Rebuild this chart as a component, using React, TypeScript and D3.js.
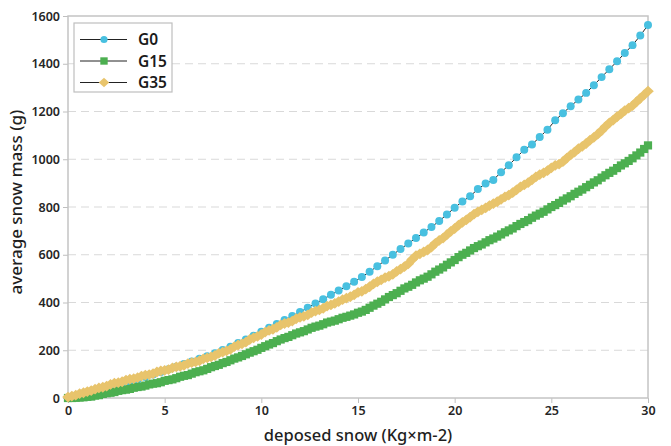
import React, { useEffect, useRef } from 'react';
import * as d3 from 'd3';

// deposed snow (Kg x m-2), G0 samples
const snowX = [
  0, 0.4, 0.8, 1.2, 1.6, 2, 2.4, 2.8, 3.2, 3.6, 4, 4.4, 4.8, 5.2, 5.6, 6, 6.4, 6.8, 7.2, 7.6,
  8, 8.4, 8.8, 9.2, 9.6, 10, 10.4, 10.8, 11.2, 11.6, 12, 12.4, 12.8, 13.2, 13.6, 14, 14.4, 14.8,
  15.2, 15.6, 16, 16.4, 16.8, 17.2, 17.6, 18, 18.4, 18.8, 19.2, 19.6, 20, 20.4, 20.8, 21.2, 21.6,
  22, 22.4, 22.8, 23.2, 23.6, 24, 24.4, 24.8, 25.2, 25.6, 26, 26.4, 26.8, 27.2, 27.6, 28, 28.4,
  28.8, 29.2, 29.6, 30,
];

const g0 = [
  0, 8, 16, 24, 33, 42, 51, 60, 69, 78, 88, 98, 109, 120, 131, 142, 153, 164, 175, 188,
  201, 215, 230, 245, 261, 278, 294, 310, 327, 343, 360, 378, 396, 414, 432, 450, 468, 487,
  507, 529, 552, 576, 600, 624, 647, 670, 693, 716, 741, 769, 797, 823, 845, 875, 898,
  913, 946, 975, 1008, 1040, 1062, 1093, 1124, 1163, 1193, 1222, 1250, 1278, 1310, 1344, 1377, 1410,
  1445, 1478, 1518, 1562,
];

// G15 / G35 samples (denser)
const snowXFine = [
  0, 0.2, 0.4, 0.6, 0.8, 1, 1.2, 1.4, 1.6, 1.8, 2, 2.2, 2.4, 2.6, 2.8, 3, 3.2, 3.4, 3.6, 3.8,
  4, 4.2, 4.4, 4.6, 4.8, 5, 5.2, 5.4, 5.6, 5.8, 6, 6.2, 6.4, 6.6, 6.8, 7, 7.2, 7.4, 7.6, 7.8,
  8, 8.2, 8.4, 8.6, 8.8, 9, 9.2, 9.4, 9.6, 9.8, 10, 10.2, 10.4, 10.6, 10.8, 11, 11.2, 11.4, 11.6, 11.8,
  12, 12.2, 12.4, 12.6, 12.8, 13, 13.2, 13.4, 13.6, 13.8, 14, 14.2, 14.4, 14.6, 14.8, 15, 15.2, 15.4, 15.6, 15.8,
  16, 16.2, 16.4, 16.6, 16.8, 17, 17.2, 17.4, 17.6, 17.8, 18, 18.2, 18.4, 18.6, 18.8, 19, 19.2, 19.4, 19.6, 19.8,
  20, 20.2, 20.4, 20.6, 20.8, 21, 21.2, 21.4, 21.6, 21.8, 22, 22.2, 22.4, 22.6, 22.8, 23, 23.2, 23.4, 23.6, 23.8,
  24, 24.2, 24.4, 24.6, 24.8, 25, 25.2, 25.4, 25.6, 25.8, 26, 26.2, 26.4, 26.6, 26.8, 27, 27.2, 27.4, 27.6, 27.8,
  28, 28.2, 28.4, 28.6, 28.8, 29, 29.2, 29.4, 29.6, 29.8, 30,
];

const g15 = [
  0, 0, 1, 2, 3, 5, 6, 10, 12, 17, 20, 22, 25, 30, 33, 35, 38, 43, 46, 48,
  52, 57, 60, 62, 66, 72, 75, 78, 83, 89, 93, 96, 102, 108, 112, 116, 122, 129, 134, 139,
  146, 151, 158, 165, 170, 176, 183, 190, 196, 202, 210, 217, 224, 230, 238, 245, 251, 256, 263, 270,
  275, 280, 287, 294, 299, 303, 309, 316, 320, 324, 330, 336, 340, 345, 350, 357, 362, 369, 378, 387,
  395, 403, 413, 423, 431, 439, 449, 459, 466, 474, 484, 493, 500, 508, 518, 529, 538, 547, 558, 568,
  578, 590, 600, 608, 618, 628, 636, 643, 652, 661, 668, 676, 685, 694, 702, 710, 720, 729, 737, 745,
  755, 764, 772, 780, 790, 800, 808, 817, 827, 836, 845, 855, 864, 873, 883, 893, 903, 912, 923, 933,
  943, 952, 963, 974, 983, 993, 1004, 1016, 1028, 1043, 1058,
];

const g35 = [
  4, 8, 12, 18, 22, 27, 31, 37, 42, 45, 50, 57, 62, 64, 68, 75, 79, 81, 85, 92,
  96, 98, 102, 109, 114, 116, 119, 126, 130, 133, 137, 144, 148, 151, 156, 164, 168, 172, 178, 187,
  192, 197, 204, 215, 222, 227, 234, 245, 252, 258, 266, 276, 283, 288, 296, 306, 312, 316, 322, 332,
  338, 342, 348, 358, 364, 369, 376, 385, 390, 396, 404, 412, 418, 424, 432, 442, 447, 456, 466, 478,
  487, 495, 504, 510, 518, 530, 540, 550, 562, 580, 596, 604, 612, 620, 632, 648, 660, 670, 684, 698,
  710, 724, 736, 746, 758, 770, 780, 788, 796, 806, 814, 822, 832, 842, 850, 860, 872, 884, 893, 902,
  914, 926, 936, 943, 952, 964, 974, 980, 990, 1005, 1018, 1030, 1044, 1054, 1066, 1080, 1092, 1105, 1120, 1137,
  1152, 1164, 1178, 1190, 1204, 1214, 1225, 1240, 1255, 1270, 1285,
];

const seriesNames = ['G0', 'G15', 'G35'];
const seriesColors = ['#48c0e0', '#4caf50', '#e8c46c'];
const seriesShapes = ['circle', 'square', 'diamond'];
const yTicks = [0, 200, 400, 600, 800, 1000, 1200, 1400, 1600];
const xTicks = [0, 5, 10, 15, 20, 25, 30];

const W = 671;
const H = 446;
const margin = { top: 16, right: 23, bottom: 48, left: 68 };
const font = '"Noto Sans", "Open Sans", sans-serif';

const markerPath = (shape: string) => {
  if (shape === 'circle') return d3.symbol(d3.symbolCircle, 50)()!;
  if (shape === 'square') return 'M-4.1,-4.1H4.1V4.1H-4.1Z';
  return 'M0,-5.4L5.8,0L0,5.4L-5.8,0Z';
};

const App: React.FC = () => {
  const svgRef = useRef<SVGSVGElement>(null);

  useEffect(() => {
    if (!svgRef.current) return;
    const svg = d3.select(svgRef.current);
    svg.selectAll('*').remove();

    const innerW = W - margin.left - margin.right;
    const innerH = H - margin.top - margin.bottom;

    const x = d3.scaleLinear().domain([0, 30]).range([0, innerW]);
    const y = d3.scaleLinear().domain([0, 1600]).range([innerH, 0]);

    const g = svg.append('g').attr('transform', `translate(${margin.left},${margin.top})`);

    // dashed grid
    g.append('g')
      .selectAll('line')
      .data(yTicks.filter(t => t > 0 && t < 1600))
      .enter().append('line')
      .attr('x1', 0).attr('x2', innerW)
      .attr('y1', d => y(d)).attr('y2', d => y(d))
      .attr('stroke', '#d9d9d9')
      .attr('stroke-dasharray', '8,5');

    // axes
    const yAxis = g.append('g')
      .call(d3.axisLeft(y).tickValues(yTicks).tickFormat(d3.format('d')).tickSize(5).tickPadding(3));
    const xAxis = g.append('g')
      .attr('transform', `translate(0,${innerH})`)
      .call(d3.axisBottom(x).tickValues(xTicks).tickFormat(d3.format('d')).tickSize(5).tickPadding(3));
    [yAxis, xAxis].forEach(a => {
      a.select('.domain').remove();
      a.selectAll('line').attr('stroke', '#bfbfbf');
      a.selectAll('text')
        .attr('font-family', font)
        .attr('font-size', 12.5)
        .attr('font-weight', 600)
        .attr('fill', '#262626');
    });

    // frame
    g.append('rect')
      .attr('width', innerW).attr('height', innerH)
      .attr('fill', 'none')
      .attr('stroke', '#c4c4c4')
      .attr('stroke-width', 1.5);

    const allSeries = [
      { xs: snowX, vals: g0 },
      { xs: snowXFine, vals: g15 },
      { xs: snowXFine, vals: g35 },
    ];
    const line = d3.line<[number, number]>().x(d => x(d[0])).y(d => y(d[1]));

    allSeries.forEach((s, i) => {
      const pts = s.xs.map((sx, j) => [sx, s.vals[j]] as [number, number]);
      const sg = g.append('g');
      sg.append('path')
        .attr('d', line(pts)!)
        .attr('fill', 'none')
        .attr('stroke', '#222')
        .attr('stroke-width', 1);
      sg.selectAll('path.m')
        .data(pts)
        .enter().append('path')
        .attr('class', 'm')
        .attr('transform', d => `translate(${x(d[0])},${y(d[1])})`)
        .attr('d', markerPath(seriesShapes[i]))
        .attr('fill', seriesColors[i]);
    });

    // axis titles
    svg.append('text')
      .attr('x', margin.left + innerW / 2)
      .attr('y', 441)
      .attr('text-anchor', 'middle')
      .attr('font-family', font)
      .attr('font-size', 16.5)
      .attr('font-weight', 500)
      .attr('fill', '#1f1f1f')
      .text('deposed snow (Kg×m-2)');
    svg.append('text')
      .attr('transform', `translate(22,${margin.top + innerH / 2 - 5}) rotate(-90)`)
      .attr('text-anchor', 'middle')
      .attr('font-family', font)
      .attr('font-size', 17)
      .attr('font-weight', 500)
      .attr('fill', '#1f1f1f')
      .text('average snow mass (g)');

    // legend
    const lg = svg.append('g').attr('transform', 'translate(74,23)');
    lg.append('rect')
      .attr('width', 98).attr('height', 69)
      .attr('fill', '#fff')
      .attr('stroke', '#bfbfbf')
      .attr('stroke-width', 1.2);
    seriesNames.forEach((name, i) => {
      const cy = 16.5 + i * 21.5;
      lg.append('line')
        .attr('x1', 6).attr('x2', 53)
        .attr('y1', cy).attr('y2', cy)
        .attr('stroke', '#222');
      lg.append('path')
        .attr('transform', `translate(30,${cy}) scale(0.9)`)
        .attr('d', markerPath(seriesShapes[i]))
        .attr('fill', seriesColors[i]);
      lg.append('text')
        .attr('x', 64).attr('y', cy + 5.5)
        .attr('font-family', font)
        .attr('font-size', 15.5)
        .attr('font-weight', 600)
        .attr('fill', '#1a1a1a')
        .text(name);
    });
  }, []);

  return (
    <svg ref={svgRef} width={W} height={H}
      style={{ position: 'absolute', left: 0, top: 0, background: '#fff' }} />
  );
};

export default App;
